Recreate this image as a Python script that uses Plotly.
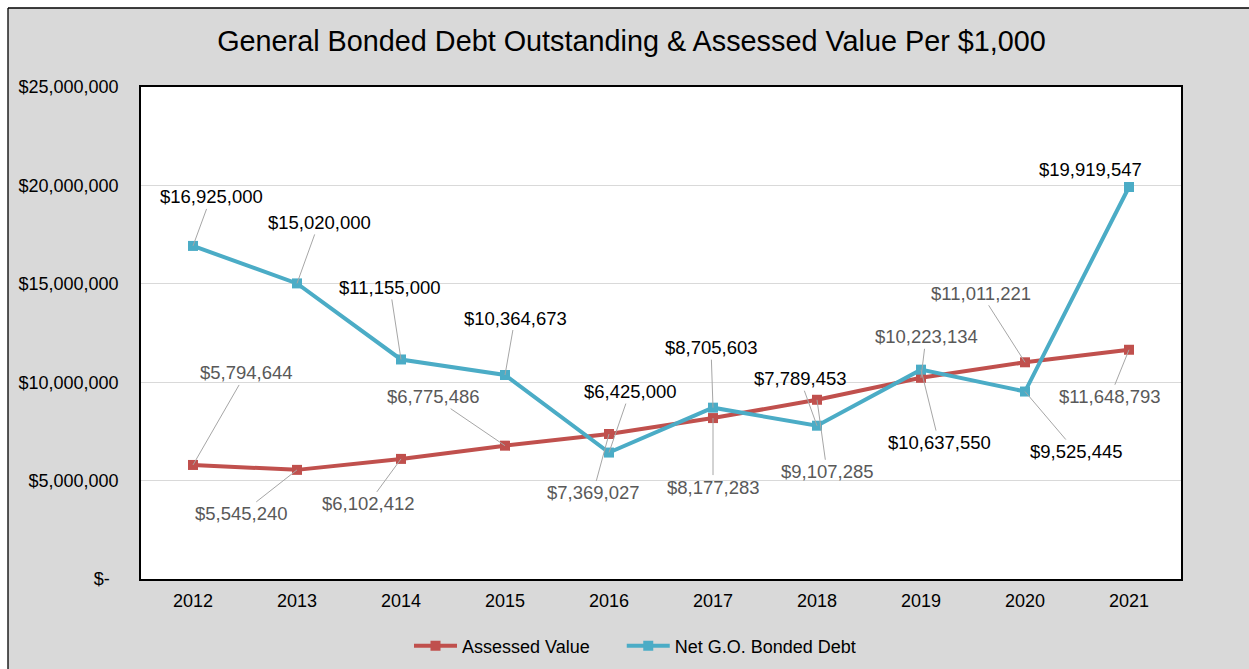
import plotly.graph_objects as go

# ---- data ----
years = ["2012", "2013", "2014", "2015", "2016", "2017", "2018", "2019", "2020", "2021"]
assessed_value = [5794644, 5545240, 6102412, 6775486, 7369027,
                  8177283, 9107285, 10223134, 11011221, 11648793]
net_go_debt = [16925000, 15020000, 11155000, 10364673, 6425000,
               8705603, 7789453, 10637550, 9525445, 19919547]

y_tickvals = [0, 5000000, 10000000, 15000000, 20000000, 25000000]
y_ticktext = ["$-\u2002", "$5,000,000", "$10,000,000", "$15,000,000",
              "$20,000,000", "$25,000,000"]

# label offsets (pixels from the point to the label centre) and leader-line flags
av_offsets = [(53, -92), (-56, 44), (-33, 45), (-72, -49), (-16, 59),
              (0, 69), (10, 72), (5, -41), (-44, -69), (-19, 47)]
av_leader = [True] * 10
debt_offsets = [(18, -49), (22, -61), (-11, -72), (10, -57), (21, -61),
                (-2, -60), (-17, -47), (18, 73), (51, 60), (-39, -17)]
debt_leader = [True] * 9 + [False]

RED = "#C0504D"
BLUE = "#4BACC6"
FONT = "Liberation Sans, Arial, sans-serif"

W, H = 1249, 669
M_L, M_R, M_T, M_B = 141, 68, 87, 90


def px_x(px):
    return (px - M_L) / (W - M_L - M_R)


def px_y(py):
    return (H - M_B - py) / (H - M_T - M_B)


def money(v):
    return "${:,}".format(v)


fig = go.Figure()
fig.add_trace(go.Scatter(
    x=years, y=assessed_value, name="Assessed Value\u2002\u2002\u2002",
    mode="lines+markers",
    line=dict(color=RED, width=4),
    marker=dict(symbol="square", size=10, color=RED),
))
fig.add_trace(go.Scatter(
    x=years, y=net_go_debt, name="Net G.O. Bonded Debt", mode="lines+markers",
    line=dict(color=BLUE, width=4),
    marker=dict(symbol="square", size=10, color=BLUE),
))

# data labels with grey leader lines
for series, offsets, leaders, color in [
    (assessed_value, av_offsets, av_leader, "#595959"),
    (net_go_debt, debt_offsets, debt_leader, "#000000"),
]:
    for i, v in enumerate(series):
        dx, dy = offsets[i]
        common = dict(x=i, y=v, xref="x", yref="y", text=money(v),
                      font=dict(family=FONT, size=18.5, color=color))
        if leaders[i]:
            fig.add_annotation(
                **common, showarrow=True, arrowhead=0, arrowwidth=1,
                arrowcolor="#A6A6A6", ax=dx, ay=dy,
                axref="pixel", ayref="pixel",
            )
        else:
            fig.add_annotation(**common, showarrow=False, xshift=dx, yshift=-dy)

# outer chart frame: grey panel with a thin black edge, white margin outside
fx, fy = px_x(8), px_y(8)
fig.add_shape(type="rect", xref="paper", yref="paper", x0=-1, x1=2, y0=fy, y1=2,
              fillcolor="white", line=dict(width=0), layer="below")
fig.add_shape(type="rect", xref="paper", yref="paper", x0=-1, x1=fx, y0=-1, y1=2,
              fillcolor="white", line=dict(width=0), layer="below")
fig.add_shape(type="line", xref="paper", yref="paper", x0=fx, x1=2, y0=fy, y1=fy,
              line=dict(color="#000000", width=1.3))
fig.add_shape(type="line", xref="paper", yref="paper", x0=fx, x1=fx, y0=-1, y1=fy,
              line=dict(color="#000000", width=1.3))

fig.update_layout(
    width=W, height=H,
    margin=dict(l=M_L, r=M_R, t=M_T, b=M_B, autoexpand=False),
    paper_bgcolor="#D9D9D9",
    plot_bgcolor="#FFFFFF",
    font=dict(family=FONT, size=18, color="#000000"),
    title=dict(
        text="General Bonded Debt Outstanding & Assessed Value Per $1,000",
        font=dict(family=FONT, size=28.8, color="#000000"),
        x=631.5 / W, xref="container", xanchor="center",
        y=1 - 41 / H, yref="container", yanchor="middle",
    ),
    xaxis=dict(
        type="category", range=[-0.5, 9.5],
        showline=True, mirror=True, linecolor="#000000", linewidth=1.5,
        showgrid=False, ticks="", ticklabelstandoff=5,
        tickfont=dict(family=FONT, size=18, color="#000000"),
    ),
    yaxis=dict(
        range=[0, 25000000], tickvals=y_tickvals, ticktext=y_ticktext,
        showline=True, mirror=True, linecolor="#000000", linewidth=1.5,
        showgrid=True, gridcolor="#D9D9D9", gridwidth=1.3,
        zeroline=False, ticks="", ticklabelstandoff=17,
        tickfont=dict(family=FONT, size=18, color="#000000"),
    ),
    legend=dict(
        orientation="h", xref="container", yref="container",
        x=409 / W, xanchor="left", y=1 - 646 / H, yanchor="middle",
        font=dict(family=FONT, size=18, color="#000000"),
        bgcolor="rgba(0,0,0,0)", itemwidth=43,
    ),
)

fig.write_html("out.html")
